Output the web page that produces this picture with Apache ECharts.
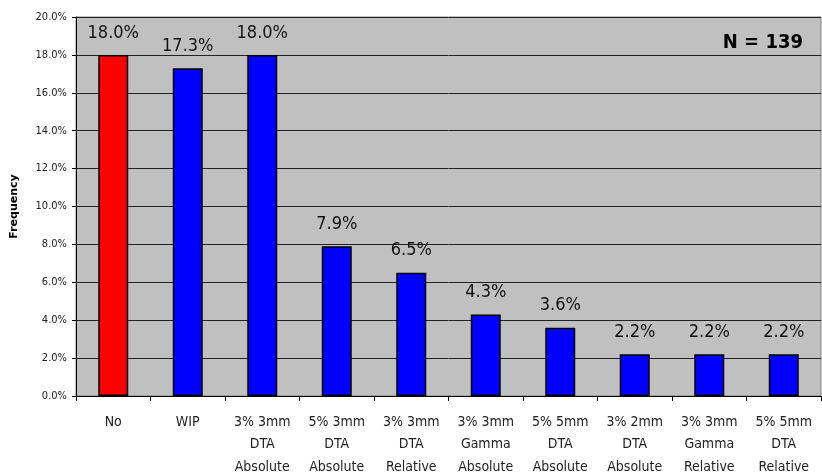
<!DOCTYPE html>
<html><head><meta charset="utf-8">
<script src="https://cdn.jsdelivr.net/npm/echarts@6/dist/echarts.min.js"></script>
<style>html,body{margin:0;padding:0;background:#fff}#c{width:822px;height:474px}</style>
</head><body><div id="c"></div>
<script>
const categories = ['No','WIP','3% 3mm\nDTA\nAbsolute','5% 3mm\nDTA\nAbsolute','3% 3mm\nDTA\nRelative','3% 3mm\nGamma\nAbsolute','5% 5mm\nDTA\nAbsolute','3% 2mm\nDTA\nAbsolute','3% 3mm\nGamma\nRelative','5% 5mm\nDTA\nRelative'];
const values = [18.0, 17.3, 18.0, 7.9, 6.5, 4.3, 3.6, 2.2, 2.2, 2.2];
const barColors = ['#ff0000','#0000ff','#0000ff','#0000ff','#0000ff','#0000ff','#0000ff','#0000ff','#0000ff','#0000ff'];
const font = '"DejaVu Sans Condensed", "Liberation Sans Narrow", sans-serif';
const chart = echarts.init(document.getElementById('c'));
chart.setOption({
  animation:false,
  backgroundColor:'#fff',
  grid:{left:76, top:17, width:745, height:379, containLabel:false, outerBoundsMode:'none', show:true, backgroundColor:'#c0c0c0', borderColor:'#808080', borderWidth:1},
  title:{text:'N = 139', right:14, top:28, textStyle:{fontFamily:font, fontSize:20, fontWeight:'bold', color:'#000'}},
  xAxis:{type:'category', data:categories,
    axisLine:{lineStyle:{color:'#000', width:1}},
    axisTick:{show:true, length:5, lineStyle:{color:'#000'}},
    axisLabel:{fontFamily:font, fontSize:14, color:'#222', lineHeight:22.5, margin:15, interval:0}},
  yAxis:{type:'value', min:0, max:20, interval:2,
    name:'Frequency', nameLocation:'middle', nameGap:56, nameRotate:90,
    nameTextStyle:{fontFamily:'DejaVu Sans, sans-serif', fontSize:11, fontWeight:'bold', color:'#000'},
    axisLine:{show:true, lineStyle:{color:'#000'}},
    axisTick:{show:true, length:4, lineStyle:{color:'#000'}},
    splitLine:{lineStyle:{color:'#222', width:1}},
    axisLabel:{fontFamily:font, fontSize:11, color:'#222', margin:9, formatter:v=>v.toFixed(1)+'%'}},
  series:[{type:'bar', barWidth:30,
    data:values.map((v,i)=>({value:v, itemStyle:{color:barColors[i]}})),
    itemStyle:{borderColor:'#000', borderWidth:1.5},
    label:{show:true, position:'top', distance:13, fontFamily:font, fontSize:18, color:'#111', formatter:p=>p.value.toFixed(1)+'%'}}]
});
</script></body></html>
